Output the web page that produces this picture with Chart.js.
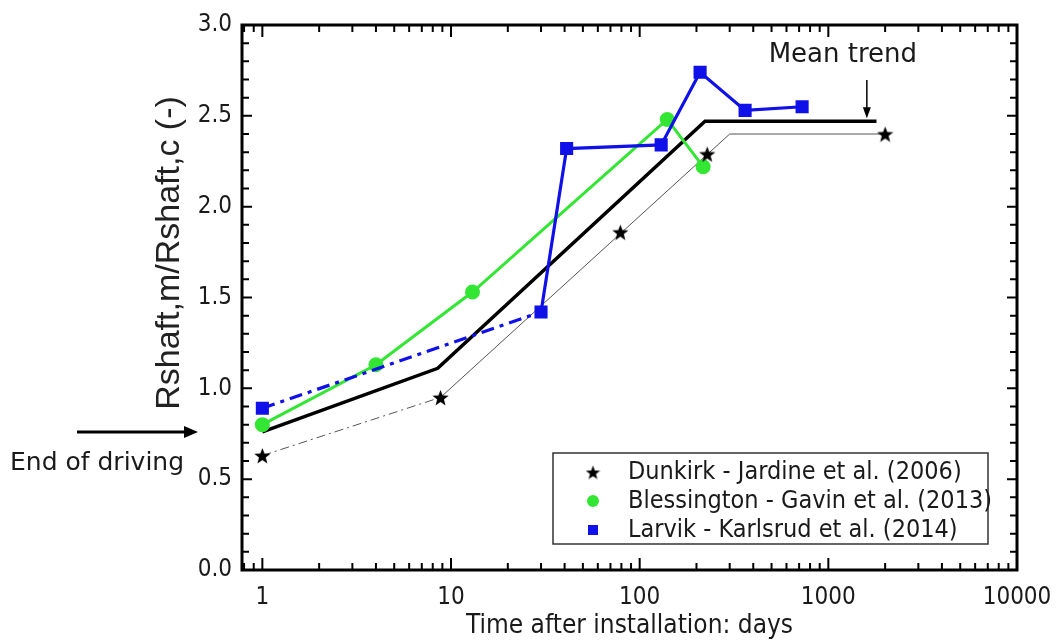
<!DOCTYPE html>
<html>
<head>
<meta charset="utf-8">
<script src="https://cdn.jsdelivr.net/npm/chart.js@4/dist/chart.umd.min.js"></script>
<style>
  html, body { margin: 0; padding: 0; background: #fff; }
  #wrap { width: 1056px; height: 643px; position: relative; }
  canvas { display: block; }
</style>
</head>
<body>
<div id="wrap"><canvas id="c" width="1056" height="643"></canvas></div>
<script>
// Shaft capacity ratio vs. time after installation (log time axis)
const meanDays = [1, 8.5, 222, 1800];
const meanRatio = [0.76, 1.11, 2.47, 2.47];

const dunkirkDays = [1, 8.8, 79, 228, 2000];
const dunkirkRatio = [0.63, 0.95, 1.86, 2.29, 2.40];
const dunkirkFitDays = [1, 8.8, 300, 2000];
const dunkirkFitRatio = [0.63, 0.95, 2.40, 2.40];

const blessingtonDays = [1, 4, 13, 140, 217];
const blessingtonRatio = [0.80, 1.13, 1.53, 2.48, 2.22];

const larvikDays = [1, 30, 41, 130, 209, 362, 726];
const larvikRatio = [0.89, 1.42, 2.32, 2.34, 2.74, 2.53, 2.55];

const xTicks = [1, 10, 100, 1000, 10000];
const yTicks = [0, 0.5, 1.0, 1.5, 2.0, 2.5, 3.0];
const seriesLabels = [
  'Dunkirk - Jardine et al. (2006)',
  'Blessington - Gavin et al. (2013)',
  'Larvik - Karlsrud et al. (2014)'
];
const meanArrowDay = 1600;

const FONT = "'DejaVu Sans Condensed', 'Liberation Sans', sans-serif";
const WIDE = "'DejaVu Sans', Verdana, sans-serif";
const TEXT = '#1a1a1a';
const BLUE = '#1010e8';
const GREEN = '#33e633';

const pts = (xs, ys) => xs.map((x, i) => ({ x, y: ys[i] }));

function starImage(size, color) {
  const c = document.createElement('canvas');
  c.width = c.height = size;
  const g = c.getContext('2d');
  const r = size / 2, ri = r * 0.42;
  g.beginPath();
  for (let i = 0; i < 10; i++) {
    const a = -Math.PI / 2 + i * Math.PI / 5;
    const rr = i % 2 ? ri : r;
    g.lineTo(r + rr * Math.cos(a), r + 1 + rr * Math.sin(a));
  }
  g.closePath();
  g.fillStyle = color;
  g.fill();
  return c;
}
const star = starImage(17, '#000');
const legendStar = starImage(15, '#000');

const firstSegDash = pattern => ({
  borderDash: ctx => ctx.p0DataIndex === 0 ? pattern : []
});

// Frame, inward ticks, legend and annotations
const decorations = {
  id: 'decorations',
  afterDraw(chart) {
    const { ctx, chartArea: a, scales } = chart;
    const xs = scales.x, ys = scales.y;
    ctx.save();
    ctx.strokeStyle = '#000';

    // inward tick marks on all four sides
    ctx.lineWidth = 2;
    ctx.beginPath();
    for (let d = 1; d <= 10000; d *= 10) {
      for (let m = 1; m <= 9; m++) {
        const v = d * m;
        if (v > 10000) break;
        const px = xs.getPixelForValue(v);
        const len = m === 1 ? 12 : 7;
        ctx.moveTo(px, a.bottom); ctx.lineTo(px, a.bottom - len);
        ctx.moveTo(px, a.top); ctx.lineTo(px, a.top + len);
      }
    }
    [0.8, 0.9].forEach(v => {
      const px = xs.getPixelForValue(v);
      if (px > a.left + 2) {
        ctx.moveTo(px, a.bottom); ctx.lineTo(px, a.bottom - 7);
        ctx.moveTo(px, a.top); ctx.lineTo(px, a.top + 7);
      }
    });
    for (let k = 1; k < 30; k++) {
      const py = ys.getPixelForValue(k / 10);
      const len = k % 5 === 0 ? 10 : 7;
      ctx.moveTo(a.left, py); ctx.lineTo(a.left + len, py);
      ctx.moveTo(a.right, py); ctx.lineTo(a.right - len, py);
    }
    ctx.stroke();

    // frame
    ctx.lineWidth = 3;
    ctx.strokeRect(a.left, a.top, a.right - a.left, a.bottom - a.top);

    // y axis title
    ctx.save();
    ctx.translate(170, 253);
    ctx.rotate(-Math.PI / 2);
    ctx.fillStyle = '#222';
    ctx.font = "34px 'Liberation Sans', Arial, sans-serif";
    ctx.textAlign = 'center';
    ctx.textBaseline = 'middle';
    ctx.fillText('Rshaft,m/Rshaft,c (-)', 0, 0);
    ctx.restore();

    // "Mean trend" label and arrow
    const ax = xs.getPixelForValue(meanArrowDay);
    const ay = ys.getPixelForValue(meanRatio[meanRatio.length - 1]) - 3;
    ctx.fillStyle = TEXT;
    ctx.font = '26px ' + WIDE;
    ctx.textAlign = 'center';
    ctx.textBaseline = 'middle';
    ctx.fillText('Mean trend', ax - 24, 55);
    ctx.lineWidth = 1.5;
    ctx.beginPath(); ctx.moveTo(ax, 80); ctx.lineTo(ax, ay - 8); ctx.stroke();
    ctx.fillStyle = '#000';
    ctx.beginPath(); ctx.moveTo(ax, ay); ctx.lineTo(ax - 4, ay - 11); ctx.lineTo(ax + 4, ay - 11); ctx.closePath(); ctx.fill();

    // "End of driving" label and arrow at the start of the mean trend
    const ey = ys.getPixelForValue(meanRatio[0]);
    ctx.lineWidth = 3;
    ctx.beginPath(); ctx.moveTo(77, ey); ctx.lineTo(186, ey); ctx.stroke();
    ctx.beginPath(); ctx.moveTo(198, ey); ctx.lineTo(184, ey - 6); ctx.lineTo(184, ey + 6); ctx.closePath(); ctx.fill();
    ctx.fillStyle = TEXT;
    ctx.font = '25px ' + WIDE;
    ctx.textAlign = 'left';
    ctx.fillText('End of driving', 10, 463);

    // legend
    const L = { x: 553, y: 453, w: 435, h: 91 };
    ctx.fillStyle = '#fff';
    ctx.fillRect(L.x, L.y, L.w, L.h);
    ctx.strokeStyle = '#333';
    ctx.lineWidth = 1.5;
    ctx.strokeRect(L.x, L.y, L.w, L.h);
    const rows = [472, 501, 530];
    const mx = 593;
    ctx.drawImage(legendStar, mx - legendStar.width / 2, rows[0] - legendStar.height / 2);
    ctx.fillStyle = GREEN;
    ctx.beginPath(); ctx.arc(mx, rows[1], 6, 0, Math.PI * 2); ctx.fill();
    ctx.fillStyle = BLUE;
    ctx.fillRect(mx - 5, rows[2] - 5, 10, 10);
    ctx.fillStyle = TEXT;
    ctx.font = '25px ' + FONT;
    ctx.textAlign = 'left';
    ctx.textBaseline = 'middle';
    seriesLabels.forEach((t, i) => ctx.fillText(t, 628, rows[i]));

    ctx.restore();
  }
};

new Chart(document.getElementById('c'), {
  type: 'scatter',
  data: {
    datasets: [
      {
        label: 'Dunkirk trend',
        data: pts(dunkirkFitDays, dunkirkFitRatio),
        showLine: true, borderColor: '#555', borderWidth: 1,
        pointRadius: 0, segment: firstSegDash([9, 4, 2, 4]), order: 5
      },
      {
        label: 'Mean trend',
        data: pts(meanDays, meanRatio),
        showLine: true, borderColor: '#000', borderWidth: 3.5,
        pointRadius: 0, order: 4
      },
      {
        label: seriesLabels[1],
        data: pts(blessingtonDays, blessingtonRatio),
        showLine: true, borderColor: GREEN, borderWidth: 3,
        pointStyle: 'circle', pointRadius: 6,
        pointBackgroundColor: GREEN, pointBorderColor: GREEN, order: 3
      },
      {
        label: seriesLabels[2],
        data: pts(larvikDays, larvikRatio),
        showLine: true, borderColor: BLUE, borderWidth: 3.2,
        segment: firstSegDash([13, 6, 4, 6]),
        pointStyle: 'rect', pointRadius: 7,
        pointBackgroundColor: BLUE, pointBorderColor: BLUE, order: 2
      },
      {
        label: seriesLabels[0],
        data: pts(dunkirkDays, dunkirkRatio),
        showLine: false, pointStyle: star, pointRadius: 8, order: 1
      }
    ]
  },
  options: {
    responsive: false,
    animation: false,
    devicePixelRatio: 1,
    layout: { padding: { left: 0, top: 25, right: 39, bottom: 0 } },
    plugins: { legend: { display: false }, tooltip: { enabled: false } },
    scales: {
      x: {
        type: 'logarithmic',
        min: 0.78, max: 10000,
        afterBuildTicks: s => { s.ticks = xTicks.map(v => ({ value: v })); },
        afterFit: s => { s.height = 73; s.paddingLeft = 0; s.paddingRight = 0; },
        grid: { display: false, drawTicks: false },
        border: { display: false },
        ticks: {
          autoSkip: false, maxRotation: 0, padding: 13,
          color: TEXT, font: { family: FONT, size: 24 },
          callback: v => String(v)
        },
        title: {
          display: true, text: 'Time after installation: days',
          color: TEXT, font: { family: FONT, size: 26 },
          padding: { top: 0, bottom: 1 }
        }
      },
      y: {
        min: 0, max: 3,
        afterBuildTicks: s => { s.ticks = yTicks.map(v => ({ value: v })); },
        afterFit: s => { s.width = 242; s.paddingTop = 0; s.paddingBottom = 0; },
        grid: { display: false, drawTicks: false },
        border: { display: false },
        ticks: {
          padding: 10, color: TEXT, font: { family: FONT, size: 24 },
          callback: v => Number(v).toFixed(1)
        }
      }
    }
  },
  plugins: [decorations]
});
</script>
</body>
</html>
